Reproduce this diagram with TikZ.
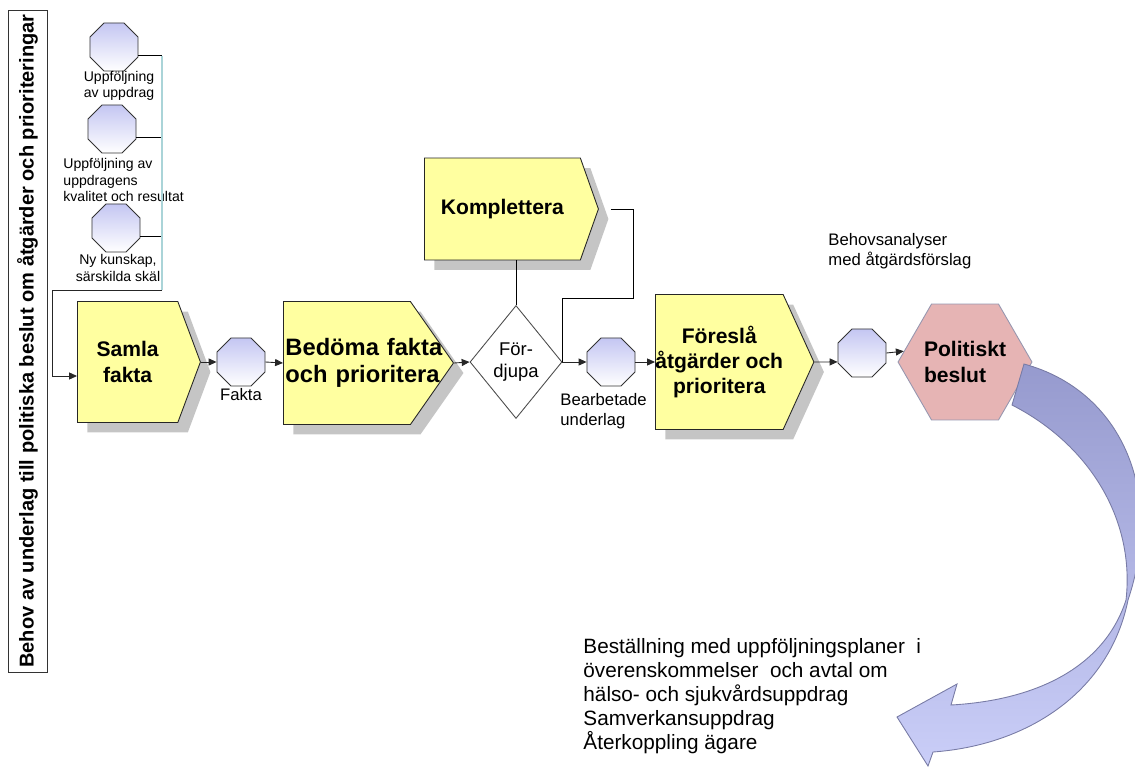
\documentclass[tikz,border=0pt]{standalone}
\usepackage{fontspec}
\setmainfont{Liberation Sans}
\usetikzlibrary{shapes.geometric,shapes.symbols,arrows.meta,shadows,positioning}
\definecolor{procyellow}{RGB}{255,255,160}
\definecolor{octlav}{RGB}{196,198,242}
\definecolor{beslutpink}{RGB}{230,180,180}
\definecolor{beslutedge}{RGB}{150,150,175}
\definecolor{ribbontop}{RGB}{150,154,206}
\definecolor{ribbonbot}{RGB}{202,206,248}
\definecolor{collteal}{RGB}{170,212,216}
\tikzset{
  proc/.style={signal, signal to=east, draw=black!85, fill=procyellow, align=center, inner sep=0pt,
    font=\bfseries\fontsize{12}{14.5}\selectfont,
    drop shadow={shadow xshift=0.2cm, shadow yshift=-0.2cm, fill=black!45, opacity=0.5}},
  octa/.style={regular polygon, regular polygon sides=8, draw=black!80, top color=octlav, bottom color=white, minimum size=1.04cm, inner sep=0pt},
  tinytxt/.style={font=\fontsize{8}{9.2}\selectfont, inner sep=0pt},
  lbltxt/.style={font=\fontsize{9.5}{11.5}\selectfont, inner sep=0pt},
  flow/.style={-{Triangle[length=4.5pt,width=4pt]}, black!85},
}
\begin{document}
\begin{tikzpicture}[x=0.02cm, y=-0.02cm, line width=0.5pt]
\useasboundingbox (0,0) rectangle (1135,767);

\node[draw=black!80, rotate=90, minimum width=13.24cm, minimum height=0.78cm, inner sep=0pt, font=\bfseries\fontsize{11.4}{13}\selectfont] (behov) at (27.5,341) {Behov av underlag till politiska beslut om åtgärder och prioriteringar};

\node[octa] (upp1) at (114,47) {};
\node[octa] (upp2) at (112,129) {};
\node[octa] (upp3) at (116,228) {};
\node[tinytxt, align=center] (l-upp1) at (119,86) {Uppföljning\\av uppdrag};
\node[tinytxt, align=left, anchor=west] (l-upp2) at (63,180) {Uppföljning av\\uppdragens\\kvalitet och resultat};
\node[tinytxt, align=center] (l-upp3) at (118,268) {Ny kunskap,\\särskilda skäl};

\coordinate (samlapunkt) at (162,290);
\coordinate (knee) at (52,290);

\node[proc, minimum width=2.46cm, minimum height=2.42cm, signal pointer angle=139, anchor=west] (samla) at (77,362) {Samla\\fakta};
\node[octa] (fakta) at (241,362) {};
\node[lbltxt, below=1pt of fakta] (l-fakta) {Fakta};
\node[proc, text width=2.46cm, inner xsep=0.04cm, align=left, minimum height=2.46cm, signal pointer angle=110, anchor=west, font=\bfseries\fontsize{13.5}{15.5}\selectfont] (bedoma) at (283,363) {\mbox{Bedöma fakta}\\\mbox{och prioritera}};
\node[diamond, draw=black!70, fill=white, minimum width=1.84cm, minimum height=2.26cm, inner sep=0pt, align=center, font=\fontsize{10.5}{12.5}\selectfont] (fordjupa) at (516,362) {För-\\djupa};
\node[proc, minimum width=3.48cm, minimum height=2.04cm, signal pointer angle=141, anchor=west] (kompl) at (424,209) {Komplettera};
\node[octa] (bearb) at (611,362) {};
\node[lbltxt, align=left, anchor=west] (l-bearb) at (560,411) {Bearbetade\\underlag};
\node[proc, minimum width=3.1cm, minimum height=2.7cm, signal pointer angle=131, anchor=west] (foresla) at (655,362) {Föreslå\\åtgärder och\\prioritera};
\node[octa] (analys) at (862,353) {};
\node[lbltxt, align=left, anchor=west] (l-analys) at (828,251) {Behovsanalyser\\med åtgärdsförslag};
\node[regular polygon, regular polygon sides=6, minimum size=2.32cm, inner sep=0pt, draw=beslutedge, fill=beslutpink, align=left, font=\bfseries\fontsize{12}{14.5}\selectfont] (beslut) at (965,362) {Politiskt\\beslut};

\draw (upp1.340) -- (upp1.340 -| samlapunkt);
\draw (upp2.340) -- (upp2.340 -| samlapunkt);
\draw (upp3.340) -- (upp3.340 -| samlapunkt);
\draw[collteal, line width=1.2pt] (upp1.340 -| samlapunkt) -- (samlapunkt);
\draw[flow] (samlapunkt) -- (knee) |- ([yshift=-0.28cm]samla.west);

\draw[flow] (samla.east) -- (fakta.west);
\draw[flow] (fakta.east) -- (bedoma.west);
\draw[flow] (bedoma.east) -- (fordjupa.west);
\draw[flow] (fordjupa.east) -- (bearb.west);
\draw[flow] (bearb.east) -- (foresla.west);
\draw[flow] (foresla.east) -- (analys.200);
\draw[flow] (analys.east) -- (beslut.170);
\draw (fordjupa.north) -- (fordjupa.north |- kompl.south);
\coordinate (retur) at (633,298);
\draw ([xshift=0.24cm]kompl.east) -| (retur) -| (fordjupa.east);

\begin{scope}
\clip (0,0) rectangle (1135,767);
\path[draw=ribbontop!80!black, top color=ribbontop, bottom color=ribbonbot]
  (1024,364) .. controls (1120,390) and (1165,490) .. (1128,600)
  .. controls (1110,690) and (1030,745) .. (933,752)
  -- (928,766) -- (897,717) -- (957,684) -- (951,705)
  .. controls (1040,700) and (1105,665) .. (1126,600)
  .. controls (1135,520) and (1090,445) .. (1012,405) -- cycle;
\end{scope}

\node[font=\fontsize{11.8}{13.6}\selectfont, align=left, anchor=west, inner sep=0pt] (bestallning) at (583,696) {Beställning med uppföljningsplaner\ \ i\\överenskommelser\ \ och avtal om\\hälso- och sjukvårdsuppdrag\\Samverkansuppdrag\\Återkoppling ägare};
\end{tikzpicture}
\end{document}
